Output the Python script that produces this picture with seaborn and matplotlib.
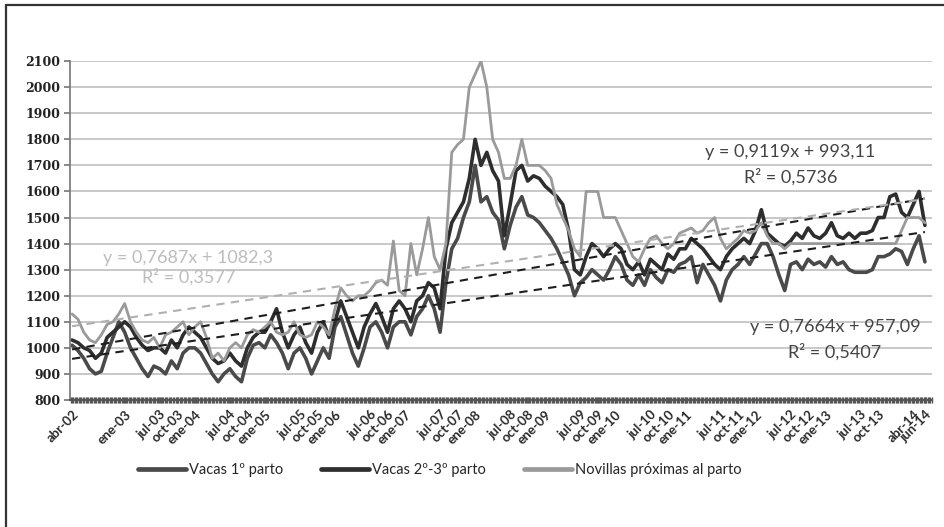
import numpy as np
import pandas as pd
import matplotlib
matplotlib.use("Agg")
import matplotlib.pyplot as plt
import seaborn as sns
from matplotlib.ticker import MultipleLocator
from matplotlib.lines import Line2D

# monthly readings, abr-02 (index 0) .. jun-14 (index 146)
vacas_1 = [
    1010, 990, 960, 920, 900, 910, 980, 1040, 1100,
    1060, 1000, 960, 920, 890, 930, 920, 900, 950, 920, 980, 1000,
    1000, 980, 940, 900, 870, 900, 920, 890, 870, 960, 1010, 1020,
    1000, 1050, 1020, 980, 920, 980, 1000, 960, 900, 950, 1000, 960,
    1080, 1120, 1050, 980, 930, 1000, 1080, 1100, 1060, 1000, 1080, 1100,
    1100, 1050, 1120, 1150, 1200, 1150, 1060, 1250, 1380, 1420, 1500, 1560,
    1700, 1560, 1580, 1520, 1490, 1380, 1470, 1540, 1580, 1510, 1500, 1480,
    1450, 1420, 1380, 1330, 1280, 1200, 1250, 1270, 1300, 1280, 1260, 1300,
    1350, 1320, 1260, 1240, 1280, 1240, 1300, 1270, 1250, 1300, 1290, 1320,
    1330, 1350, 1250, 1320, 1280, 1240, 1180, 1260, 1300, 1320, 1350, 1320,
    1360, 1400, 1400, 1350, 1280, 1220, 1320, 1330, 1300, 1340, 1320, 1330,
    1310, 1350, 1320, 1330, 1300, 1290, 1290, 1290, 1300, 1350, 1350, 1360,
    1380, 1370, 1320, 1380, 1430, 1330,
]
vacas_23 = [
    1030, 1020, 1000, 990, 960, 980, 1040, 1060, 1080,
    1100, 1080, 1040, 1010, 990, 1000, 1000, 980, 1030, 1000, 1050, 1080,
    1060, 1040, 1000, 960, 940, 950, 980, 950, 930, 1000, 1040, 1060,
    1060, 1100, 1150, 1060, 1000, 1050, 1080, 1020, 980, 1060, 1100, 1040,
    1100, 1180, 1120, 1060, 1000, 1080, 1130, 1170, 1120, 1060, 1150, 1180,
    1150, 1100, 1180, 1200, 1250, 1230, 1150, 1380, 1480, 1520, 1560, 1650,
    1800, 1700, 1750, 1680, 1640, 1430, 1550, 1680, 1700, 1640, 1660, 1650,
    1620, 1600, 1580, 1550, 1450, 1300, 1280, 1350, 1400, 1380, 1350, 1380,
    1400, 1380, 1320, 1300, 1330, 1280, 1340, 1320, 1300, 1360, 1340, 1380,
    1380, 1420, 1400, 1380, 1350, 1320, 1300, 1350, 1380, 1400, 1420, 1400,
    1450, 1530, 1440, 1420, 1400, 1390, 1410, 1440, 1420, 1460, 1430, 1420,
    1440, 1480, 1430, 1420, 1440, 1420, 1440, 1440, 1450, 1500, 1500, 1580,
    1590, 1520, 1500, 1550, 1600, 1470,
]
novillas = [
    1130, 1110, 1060, 1030, 1020, 1050, 1090, 1100, 1130,
    1170, 1100, 1060, 1030, 1020, 1040, 1000, 1050, 1060, 1080, 1100, 1050,
    1080, 1100, 1040, 960, 980, 950, 1000, 1020, 1000, 1050, 1070, 1060,
    1080, 1100, 1060, 1050, 1060, 1100, 1050, 1040, 1050, 1100, 1080, 1050,
    1150, 1230, 1200, 1180, 1200, 1200, 1220, 1250, 1260, 1240, 1410, 1220,
    1200, 1400, 1280, 1380, 1500, 1350, 1300, 1400, 1750, 1780, 1800, 2000,
    2050, 2100, 2000, 1800, 1750, 1650, 1650, 1700, 1800, 1700, 1700, 1700,
    1680, 1650, 1550, 1500, 1450, 1380, 1350, 1600, 1600, 1600, 1500, 1500,
    1500, 1450, 1400, 1350, 1330, 1380, 1420, 1430, 1400, 1380, 1400, 1440,
    1450, 1460, 1440, 1450, 1480, 1500, 1420, 1380, 1400, 1420, 1450, 1440,
    1450, 1480, 1430, 1400, 1400, 1380, 1400, 1400, 1400, 1400, 1400, 1400,
    1400, 1400, 1400, 1400, 1400, 1400, 1400, 1400, 1400, 1400, 1400, 1400,
    1400, 1450, 1500, 1500, 1500, 1480,
]
series_names = ["Vacas 1º parto", "Vacas 2º-3º parto", "Novillas próximas al parto"]

# Excel linear trends (x = week number)
slopes = [0.7664, 0.9119, 0.7687]
intercepts = [957.09, 993.11, 1082.3]
r2 = ["0,5407", "0,5736", "0,3577"]
eq_text = ["y = 0,7664x + 957,09", "y = 0,9119x + 993,11", "y = 0,7687x + 1082,3"]

tick_months = [0, 9, 15, 18, 21, 27, 30, 33, 39, 42, 45, 51, 54, 57, 63, 66, 69,
               75, 78, 81, 87, 90, 93, 99, 102, 105, 111, 114, 117, 123, 126, 129,
               135, 138, 144, 146]
tick_labels = ["abr-02", "ene-03", "jul-03", "oct-03", "ene-04", "jul-04", "oct-04",
               "ene-05", "jul-05", "oct-05", "ene-06", "jul-06", "oct-06", "ene-07",
               "jul-07", "oct-07", "ene-08", "jul-08", "oct-08", "ene-09", "jul-09",
               "oct-09", "ene-10", "jul-10", "oct-10", "ene-11", "jul-11", "oct-11",
               "ene-12", "jul-12", "oct-12", "ene-13", "jul-13", "oct-13", "abr-14",
               "jun-14"]

months = np.arange(len(vacas_1))
df = pd.DataFrame({"mes": months, series_names[0]: vacas_1,
                   series_names[1]: vacas_23, series_names[2]: novillas})

sns.set_theme(style="white")
plt.rcParams["font.family"] = ["Lato", "DejaVu Sans"]

fig = plt.figure(figsize=(9.44, 5.27), dpi=100)
ax = fig.add_axes([0.0742, 0.241, 0.913, 0.643])

colors = ["#4a4a4a", "#2e2e2e", "#9a9a9a"]
widths = [2.6, 2.6, 2.0]
trend_colors = ["#1e1e1e", "#1e1e1e", "#b0b0b0"]

for name, c, w in zip(series_names, colors, widths):
    sns.lineplot(data=df, x="mes", y=name, color=c, lw=w, ax=ax, label=name, legend=False)

weeks = 1 + months * 52.18 / 12
for a, b, c in zip(slopes, intercepts, trend_colors):
    ax.plot(months, a * weeks + b, color=c, lw=1.5, ls=(0, (4, 3)), zorder=5)

ax.set_xlim(-0.35, 147.2)
ax.set_ylim(800, 2100)
ax.yaxis.set_major_locator(MultipleLocator(100))
ax.grid(axis="y", color="#c4c4c4", lw=1.3)
ax.set_axisbelow(True)
ax.set_xlabel("")
ax.set_ylabel("")

for s in ["top", "right"]:
    ax.spines[s].set_visible(False)
ax.spines["left"].set_color("#7a7a7a")
ax.spines["bottom"].set_color("#555555")
ax.spines["bottom"].set_linewidth(1.5)

ax.set_xticks(tick_months)
ax.set_xticklabels(tick_labels, rotation=45, ha="right", rotation_mode="anchor",
                   fontsize=9.5, color="#2a2a2a", fontweight="bold")
ax.xaxis.set_minor_locator(MultipleLocator(12 / 52.18))
ax.tick_params(axis="x", which="both", direction="inout", length=4, width=1,
               color="#555555", bottom=True, pad=4)
ax.tick_params(axis="y", length=4, left=True, color="#7a7a7a", pad=3)
for t in ax.get_yticklabels():
    t.set_family("DejaVu Serif")
    t.set_fontweight("bold")
    t.set_fontsize(9)
    t.set_color("#222222")

# equation labels
ax.text(123, 1751, eq_text[1], ha="center", va="center", fontsize=13, color="#444444")
ax.text(123, 1655, "R² = " + r2[1], ha="center", va="center", fontsize=13, color="#444444")
ax.text(130.6, 1080, eq_text[0], ha="center", va="center", fontsize=13, color="#444444")
ax.text(130.6, 984, "R² = " + r2[0], ha="center", va="center", fontsize=13, color="#444444")
ax.text(19.9, 1345, eq_text[2], ha="center", va="center", fontsize=13, color="#bdbdbd")
ax.text(19.9, 1272, "R² = " + r2[2], ha="center", va="center", fontsize=13, color="#bdbdbd")

handles = [Line2D([0], [0], color=c, lw=3.4) for c in colors]
fig.legend(handles, series_names, loc="center", bbox_to_anchor=(0.466, 0.108),
           ncol=3, frameon=False, fontsize=10.5, handlelength=3.3, columnspacing=2.6,
           handletextpad=0.2)

# outer frame
fig.add_artist(Line2D([0.006, 0.006], [0.0, 0.99], color="#333333", lw=1.6,
                      transform=fig.transFigure))
fig.add_artist(Line2D([0.006, 1.0], [0.99, 0.99], color="#333333", lw=1.6,
                      transform=fig.transFigure))

fig.savefig("out.png", dpi=100)
